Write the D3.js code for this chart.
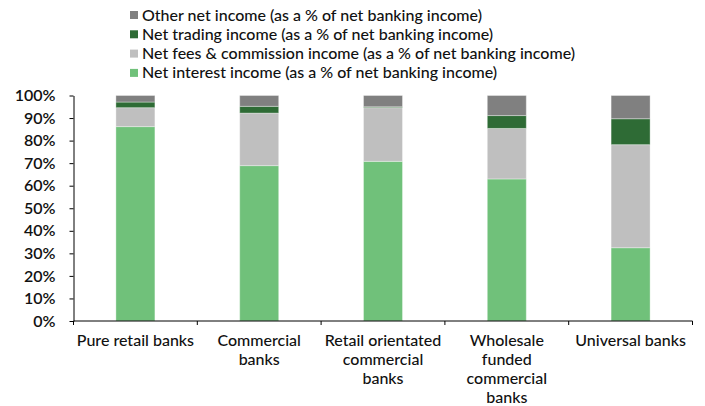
<!DOCTYPE html>
<html>
<head>
<meta charset="utf-8">
<script src="https://cdn.jsdelivr.net/npm/d3@7"></script>
<style>
  html, body { margin: 0; padding: 0; background: #fff; }
  svg { display: block; font-family: Lato, "Open Sans", sans-serif; }
</style>
</head>
<body>
<svg id="chart" width="705" height="406"></svg>
<script>
// Income mix by bank business model (share of net banking income)
const categories = [
  "Pure retail banks",
  "Commercial banks",
  "Retail orientated commercial banks",
  "Wholesale funded commercial banks",
  "Universal banks"
];
const categoryLines = [
  ["Pure retail banks"],
  ["Commercial", "banks"],
  ["Retail orientated", "commercial", "banks"],
  ["Wholesale", "funded", "commercial", "banks"],
  ["Universal banks"]
];
const netInterest = [86.2, 68.9, 70.8, 63.0, 32.5];
const netFees     = [8.4, 23.3, 23.8, 22.4, 45.7];
const netTrading  = [2.5, 3.0, 0.4, 5.7, 11.5];
const otherIncome = [2.9, 4.8, 5.0, 8.9, 10.3];
const yTicks = [0, 10, 20, 30, 40, 50, 60, 70, 80, 90, 100];

const seriesNames = [
  "Net interest income (as a % of net banking income)",
  "Net fees & commission income (as a % of net banking income)",
  "Net trading income (as a % of net banking income)",
  "Other net income (as a % of net banking income)"
];
const seriesColors = ["#70c17a", "#bfbfbf", "#2e6b35", "#808080"];
const seriesValues = [netInterest, netFees, netTrading, otherIncome];

const svg = d3.select("#chart");
const plot = { left: 73.5, right: 692.5, top: 95.5, bottom: 321 };

const x = d3.scaleBand().domain(categories).range([plot.left, plot.right]).padding(0);
const y = d3.scaleLinear().domain([0, 100]).range([plot.bottom, plot.top]);

// stack rows: one object per category
const rows = categories.map((c, i) => {
  const r = { cat: c };
  seriesNames.forEach((s, k) => { r[s] = seriesValues[k][i]; });
  return r;
});
const stacked = d3.stack().keys(seriesNames)(rows);

const barW = x.bandwidth() * 0.315;

svg.append("g")
  .selectAll("g")
  .data(stacked)
  .join("g")
  .attr("fill", (d, k) => seriesColors[k])
  .selectAll("rect")
  .data(d => d)
  .join("rect")
  .attr("x", d => x(d.data.cat) + (x.bandwidth() - barW) / 2)
  .attr("width", barW)
  .attr("y", d => y(d[1]))
  .attr("height", d => y(d[0]) - y(d[1]))
  .attr("stroke", "rgba(255,255,255,0.35)")
  .attr("stroke-width", 1);

// y axis
const yAxis = svg.append("g")
  .attr("transform", `translate(${plot.left},0)`)
  .call(d3.axisLeft(y).tickValues(yTicks).tickFormat(d => d + "%").tickSize(4).tickSizeOuter(0));
yAxis.select(".domain").attr("stroke", "#000");
yAxis.selectAll(".tick line").attr("stroke", "#000");
yAxis.selectAll(".tick text")
  .attr("x", -18)
  .attr("fill", "#111")
  .style("font-size", "16px")
  .style("font-weight", "600")
  .style("font-family", "Lato, sans-serif");

// x axis: ticks on band boundaries, labels centred in bands
const xAxis = svg.append("g").attr("transform", `translate(0,${plot.bottom})`);
xAxis.append("line")
  .attr("x1", plot.left).attr("x2", plot.right)
  .attr("stroke", "#000");
const edges = categories.map(c => x(c)).concat([plot.right]);
xAxis.selectAll("line.edge")
  .data(edges)
  .join("line")
  .attr("class", "edge")
  .attr("x1", d => d).attr("x2", d => d)
  .attr("y1", 0).attr("y2", 4)
  .attr("stroke", "#000");

xAxis.selectAll("text.cat")
  .data(categories)
  .join("text")
  .attr("class", "cat")
  .attr("text-anchor", "middle")
  .attr("fill", "#111")
  .style("font-size", "16px")
  .style("font-weight", "500")
  .each(function (c, i) {
    const t = d3.select(this);
    categoryLines[i].forEach((line, j) => {
      t.append("tspan")
        .attr("x", x(c) + x.bandwidth() / 2)
        .attr("y", 25 + j * 19)
        .text(line);
    });
  });

// legend, top series first
const legendOrder = [3, 2, 1, 0];
const legend = svg.append("g");
legend.selectAll("g")
  .data(legendOrder)
  .join("g")
  .attr("transform", (k, i) => `translate(130,${15 + i * 19.3})`)
  .each(function (k) {
    const g = d3.select(this);
    g.append("rect")
      .attr("x", 0).attr("y", -4)
      .attr("width", 8).attr("height", 8)
      .attr("fill", seriesColors[k]);
    g.append("text")
      .attr("x", 12).attr("y", 5.5)
      .attr("fill", "#111")
      .style("font-size", "16px")
      .style("font-weight", "500")
      .text(seriesNames[k]);
  });
</script>
</body>
</html>
